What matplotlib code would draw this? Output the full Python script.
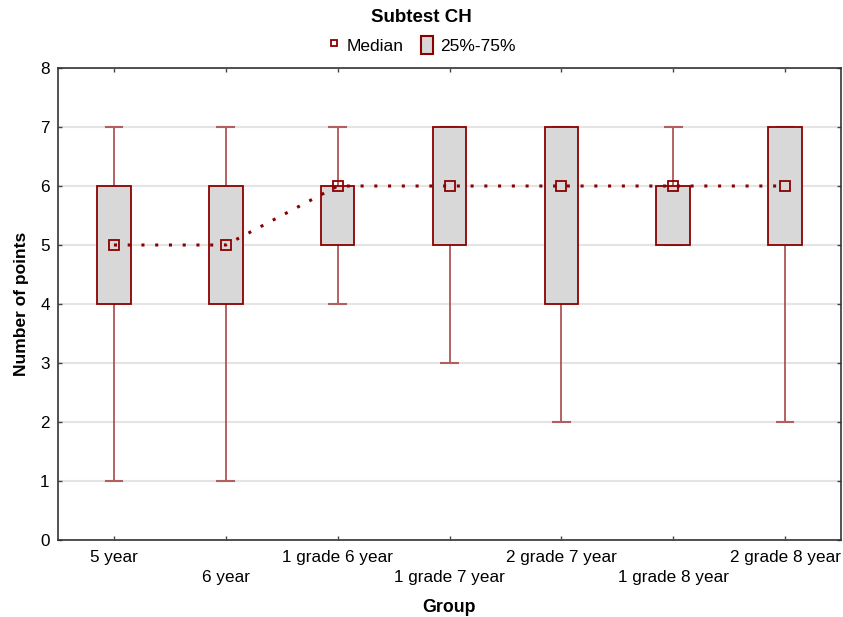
import matplotlib
matplotlib.use('Agg')
import matplotlib.pyplot as plt
from matplotlib.patches import Rectangle
from matplotlib.lines import Line2D

plt.rcParams['font.family'] = ['Liberation Sans', 'DejaVu Sans']

groups = ['5 year', '6 year', '1 grade 6 year', '1 grade 7 year',
          '2 grade 7 year', '1 grade 8 year', '2 grade 8 year']
mins = [1, 1, 4, 3, 2, 5, 2]
q1 = [4, 4, 5, 5, 4, 5, 5]
medians = [5, 5, 6, 6, 6, 6, 6]
q3 = [6, 6, 6, 7, 7, 6, 7]
maxs = [7, 7, 7, 7, 7, 7, 7]

red = '#8b0000'
fill = '#d8d8d8'

fig = plt.figure(figsize=(8.43, 6.17), dpi=100)
ax = fig.add_axes([58/843, 1 - 540/617, 783/843, 472/617])

ax.set_ylim(0, 8)
ax.set_xlim(-0.5, 6.5)
ax.set_yticks(range(9))
ax.yaxis.grid(True, color='#e4e4e4', lw=1.5)
ax.set_axisbelow(True)

bw = 0.3
cw = 0.15
for i in range(len(groups)):
    # whiskers + caps
    ax.plot([i, i], [q3[i], maxs[i]], color='#a84848', lw=1.2, zorder=2)
    ax.plot([i, i], [mins[i], q1[i]], color='#a84848', lw=1.2, zorder=2)
    ax.plot([i - cw/2, i + cw/2], [maxs[i], maxs[i]], color='#b06060', lw=1.5, zorder=2)
    ax.plot([i - cw/2, i + cw/2], [mins[i], mins[i]], color='#b06060', lw=1.5, zorder=2)
    ax.add_patch(Rectangle((i - bw/2, q1[i]), bw, q3[i] - q1[i],
                           facecolor=fill, edgecolor=red, lw=1.3, zorder=3))

x = list(range(len(groups)))
ax.plot(x, medians, color=red, lw=2.2, linestyle=(0, (1, 3.5)), zorder=4)
ax.plot(x, medians, linestyle='none', marker='s', ms=7, mfc='none',
        mec=red, mew=1.3, zorder=5)

ax.set_xticks(x)
ax.set_xticklabels([g if i % 2 == 0 else '\n' + g for i, g in enumerate(groups)],
                   fontsize=12.3, linespacing=1.45)
ax.tick_params(axis='both', direction='in', length=3, width=1, colors='#444444',
               top=True, right=True, labelcolor='black')
ax.tick_params(axis='y', labelsize=12.3, pad=6)
ax.tick_params(axis='x', pad=7)
for s in ax.spines.values():
    s.set_color('#333333')
    s.set_linewidth(1.2)

ax.set_ylabel('Number of points', fontsize=12.5, fontweight='bold', labelpad=8)
fig.text(449/843, 1 - 607/617, 'Group', ha='center', va='center',
         fontsize=12.8, fontweight='bold')

fig.text(0.5, 1 - 18/617, 'Subtest CH', ha='center', va='center',
         fontsize=13.5, fontweight='bold')

handles = [Line2D([], [], linestyle='none', marker='s', ms=5, mfc='none', mec=red, mew=1.3),
           Rectangle((0, 0), 1, 1, facecolor=fill, edgecolor=red, lw=1.5)]
fig.legend(handles, ['Median', '25%-75%'], loc='center', bbox_to_anchor=(0.5, 1 - 45/617),
           ncol=2, frameon=False, fontsize=12.5, handlelength=0.7, handleheight=1.2,
           handletextpad=0.4, columnspacing=1.0, borderpad=0)

fig.savefig('out.png', dpi=100)
